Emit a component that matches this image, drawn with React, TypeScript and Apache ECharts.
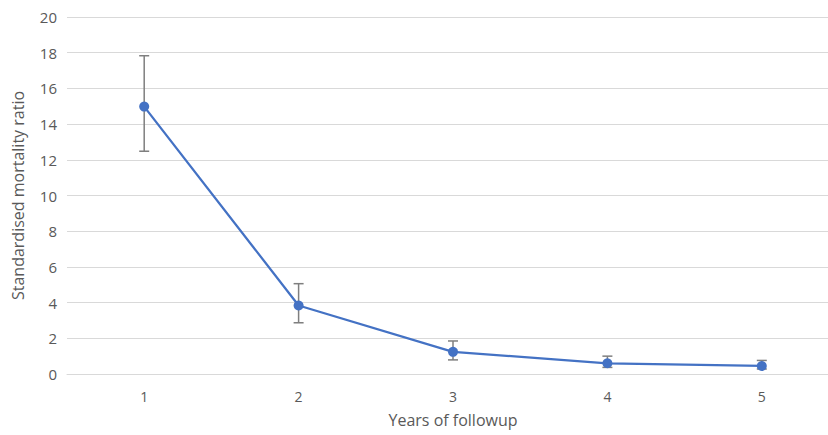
import React, { useEffect, useRef } from "react";
import * as echarts from "echarts";

const years = ["1", "2", "3", "4", "5"];
const smr = [14.98, 3.84, 1.24, 0.6, 0.45];
const lower = [12.48, 2.87, 0.79, 0.37, 0.28];
const upper = [17.83, 5.06, 1.85, 1.0, 0.76];

export default function App() {
  const ref = useRef<HTMLDivElement>(null);
  useEffect(() => {
    if (!ref.current) return;
    const chart = echarts.init(ref.current, null, { renderer: "svg" });
    const font = "'Open Sans', sans-serif";
    const errData = years.map((_, i) => [i, lower[i], upper[i]]);
    chart.setOption({
      animation: false,
      grid: { left: 67, right: -11, top: 17, bottom: 61, containLabel: false, outerBoundsMode: "none" },
      xAxis: {
        type: "category",
        data: years,
        boundaryGap: true,
        axisTick: { show: false },
        axisLine: { lineStyle: { color: "#d9d9d9", width: 1 } },
        axisLabel: { color: "#595959", fontSize: 14, fontFamily: font, margin: 15 },
        name: "Years of followup",
        nameLocation: "middle",
        nameGap: 38,
        nameTextStyle: { color: "#595959", fontSize: 16, fontFamily: font },
      },
      yAxis: {
        type: "value",
        min: 0,
        max: 20,
        interval: 2,
        axisLine: { show: false },
        axisTick: { show: false },
        splitLine: { lineStyle: { color: "#d9d9d9", width: 1 } },
        axisLabel: { color: "#595959", fontSize: 15, fontFamily: font, margin: 10 },
        name: "Standardised mortality ratio",
        nameLocation: "middle",
        nameGap: 41,
        nameTextStyle: { color: "#595959", fontSize: 16, fontFamily: font },
      },
      series: [
        {
          type: "custom",
          z: 1,
          data: errData,
          renderItem: (params: any, api: any) => {
            const x = api.value(0);
            const lo = api.coord([x, api.value(1)]);
            const hi = api.coord([x, api.value(2)]);
            const cap = 5;
            const style = { stroke: "#7f7f7f", lineWidth: 1.5 };
            return {
              type: "group",
              children: [
                { type: "line", shape: { x1: lo[0], y1: lo[1], x2: hi[0], y2: hi[1] }, style },
                { type: "line", shape: { x1: hi[0] - cap, y1: hi[1], x2: hi[0] + cap, y2: hi[1] }, style },
                { type: "line", shape: { x1: lo[0] - cap, y1: lo[1], x2: lo[0] + cap, y2: lo[1] }, style },
              ],
            };
          },
        },
        {
          type: "line",
          z: 3,
          data: smr,
          symbol: "circle",
          symbolSize: 10,
          lineStyle: { color: "#4472C4", width: 2.25 },
          itemStyle: { color: "#4472C4" },
        },
      ],
    });
    return () => chart.dispose();
  }, []);
  return (
    <div
      ref={ref}
      style={{ position: "absolute", left: 0, top: 0, width: 828, height: 435 }}
    />
  );
}
